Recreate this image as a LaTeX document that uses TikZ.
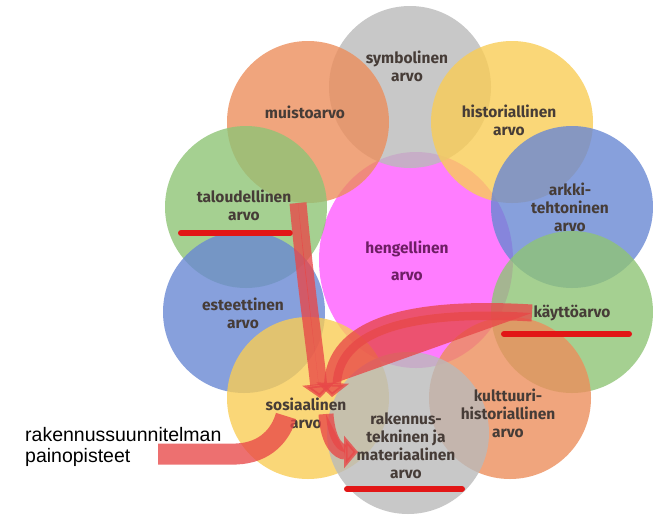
\documentclass[tikz,border=0pt]{standalone}
\usepackage{fontspec}
\setmainfont{Fira Sans}
\newfontfamily\notefont{Liberation Sans}
\usepackage{tikz}
\usetikzlibrary{
    arrows.meta,
    shapes.geometric,
    positioning
}
\definecolor{symbgray}{RGB}{186,186,186}
\definecolor{salmon}{RGB}{236,142,92}
\definecolor{sunyellow}{RGB}{249,205,86}
\definecolor{leafgreen}{RGB}{143,196,118}
\definecolor{skyblue}{RGB}{105,136,211}
\definecolor{spiritpink}{RGB}{255,111,255}
\definecolor{textgray}{RGB}{70,60,55}
\definecolor{hengpurple}{RGB}{110,30,100}
\definecolor{markred}{RGB}{226,22,22}
\definecolor{bandred}{RGB}{232,72,72}
\tikzset{
    valuecircle/.style={circle, minimum size=162pt, inner sep=0pt, fill opacity=0.8},
    valuetext/.style={align=center, text=textgray, font=\fontsize{15.5}{18}\selectfont\bfseries},
    redline/.style={draw=markred, line width=6pt, line cap=round},
    band/.style={draw=bandred, fill=bandred, opacity=0.78, line width=17pt},
    bandtip/.style={-{Triangle[width=32pt,length=14pt]}}
}

\begin{document}
\begin{tikzpicture}[x=1pt, y=-1pt]
                        \useasboundingbox (0,0) rectangle (653,515);
                        \clip (0,0) rectangle (653,515);
                        \node[ellipse, minimum width=194pt, minimum height=216pt, inner sep=0pt, fill=spiritpink, fill opacity=0.9] (heng) at (416,260) {};
                        \node[valuecircle, fill=symbgray] (symb) at (410,87) {};
                        \node[valuecircle, fill=salmon] (muisto) at (308,122) {};
                        \node[valuecircle, fill=sunyellow] (hist) at (512,122) {};
                        \node[valuecircle, fill=leafgreen] (talous) at (246,207) {};
                        \node[valuecircle, fill=skyblue] (arkki) at (572,207) {};
                        \node[valuecircle, fill=skyblue] (este) at (244,312) {};
                        \node[valuecircle, fill=leafgreen] (kaytto) at (572,312) {};
                        \node[valuecircle, fill=sunyellow] (sos) at (308,398) {};
                        \node[valuecircle, fill=salmon] (kult) at (510,398) {};
                        \node[valuecircle, fill=symbgray] (rak) at (408,433) {};
                        \node[valuetext] (symbt) at (407,66) {symbolinen\\arvo};
                        \node[valuetext] (muistot) at (305,112) {muistoarvo};
                        \node[valuetext] (histt) at (509,120) {historiallinen\\arvo};
                        \node[valuetext] (taloust) at (244,205) {taloudellinen\\arvo};
                        \node[valuetext] (arkkit) at (570,207) {arkki-\\tehtoninen\\arvo};
                        \node[valuetext, text=hengpurple, font=\fontsize{15.5}{27}\selectfont\bfseries] (hengt) at (407,261) {hengellinen\\arvo};
                        \node[valuetext] (estet) at (243,313) {esteettinen\\arvo};
                        \node[valuetext] (kayttot) at (572,313) {käyttöarvo};
                        \node[valuetext] (sost) at (306,413) {sosiaalinen\\arvo};
                        \node[valuetext] (rakt) at (406,446) {rakennus-\\tekninen ja\\materiaalinen\\arvo};
                        \node[valuetext] (kultt) at (508,413) {kulttuuri-\\historiallinen\\arvo};
                        \node[font=\notefont\fontsize{19.5}{21}\selectfont, align=left, anchor=west, inner sep=0pt] (painot) at (25,447) {rakennussuunnitelman\\painopisteet};
                        % underlines
                        \coordinate (tl1) at (181,233);
                        \coordinate (tl2) at (290,233);
                        \coordinate (kl1) at (504,334);
                        \coordinate (kl2) at (629,334);
                        \coordinate (rl1) at (347,489);
                        \coordinate (rl2) at (462,489);
                        \draw[redline] (tl1) -- (tl2);
                        \draw[redline] (kl1) -- (kl2);
                        \draw[redline] (rl1) -- (rl2);
                        % hand drawn arrows
                        \coordinate (a1s) at (298,203);
                        \coordinate (a1e) at (320,398);
                        \coordinate (a2s) at (532,313);
                        \coordinate (a2e) at (332,397);
                        \coordinate (a3s) at (326,414);
                        \coordinate (a3e) at (358,452);
                        \coordinate (b1) at (158,454);
                        \coordinate (b2) at (236,454);
                        \coordinate (b3) at (286,416);
                        \draw[band, bandtip] (a1s) .. controls (306,290) and (314,340) .. (a1e);
                        \draw[band, bandtip] (a2s) .. controls (400,305) and (335,330) .. (a2e);
                        \draw[band, bandtip, line width=15pt] (a3s) .. controls (328,445) and (340,452) .. (a3e);
                        \draw[band, fill=none, line width=21pt] (b1) -- (b2) .. controls (266,453) and (281,434) .. (b3);
                    \end{tikzpicture}
\end{document}
